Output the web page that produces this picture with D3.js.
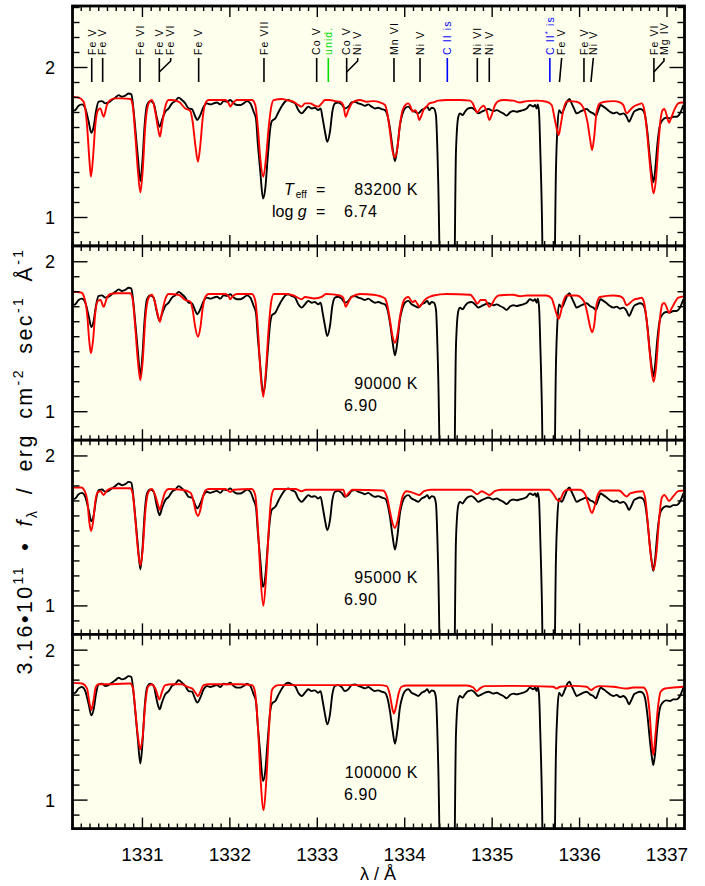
<!DOCTYPE html>
<html><head><meta charset="utf-8">
<script src="https://cdn.jsdelivr.net/npm/d3@7"></script>
<style>body{margin:0;background:#fff} text{font-family:"Liberation Sans",Arial,sans-serif}</style>
</head><body><svg id="c" width="705" height="886"></svg>
<script>
// ---------------- data ----------------
const observed = [[1330.194,1.710],[1330.232,1.716],[1330.270,1.745],[1330.308,1.754],[1330.346,1.727],[1330.385,1.639],[1330.415,1.565],[1330.442,1.605],[1330.468,1.705],[1330.499,1.772],[1330.537,1.776],[1330.575,1.761],[1330.613,1.767],[1330.651,1.783],[1330.690,1.799],[1330.728,1.816],[1330.766,1.805],[1330.804,1.812],[1330.842,1.827],[1330.873,1.821],[1330.892,1.750],[1330.918,1.594],[1330.949,1.394],[1330.976,1.243],[1331.002,1.394],[1331.025,1.616],[1331.052,1.750],[1331.090,1.776],[1331.128,1.761],[1331.166,1.661],[1331.197,1.605],[1331.223,1.650],[1331.261,1.705],[1331.300,1.727],[1331.338,1.761],[1331.376,1.776],[1331.414,1.799],[1331.452,1.783],[1331.490,1.761],[1331.528,1.727],[1331.566,1.723],[1331.605,1.672],[1331.627,1.650],[1331.662,1.683],[1331.700,1.739],[1331.738,1.761],[1331.776,1.754],[1331.814,1.761],[1331.852,1.767],[1331.891,1.754],[1331.929,1.776],[1331.967,1.772],[1332.005,1.783],[1332.043,1.761],[1332.081,1.750],[1332.119,1.750],[1332.157,1.761],[1332.196,1.776],[1332.234,1.761],[1332.272,1.705],[1332.298,1.661],[1332.321,1.483],[1332.348,1.305],[1332.379,1.127],[1332.405,1.194],[1332.432,1.394],[1332.462,1.594],[1332.481,1.643],[1332.520,1.661],[1332.558,1.705],[1332.596,1.745],[1332.630,1.772],[1332.668,1.783],[1332.706,1.772],[1332.745,1.761],[1332.783,1.716],[1332.821,1.694],[1332.859,1.716],[1332.897,1.739],[1332.935,1.727],[1332.973,1.732],[1333.011,1.716],[1333.038,1.727],[1333.061,1.661],[1333.088,1.572],[1333.114,1.505],[1333.145,1.572],[1333.172,1.705],[1333.202,1.761],[1333.240,1.767],[1333.278,1.754],[1333.316,1.727],[1333.355,1.739],[1333.393,1.767],[1333.431,1.772],[1333.469,1.761],[1333.507,1.754],[1333.545,1.745],[1333.583,1.754],[1333.621,1.739],[1333.660,1.727],[1333.698,1.732],[1333.736,1.723],[1333.774,1.716],[1333.801,1.683],[1333.831,1.594],[1333.862,1.461],[1333.888,1.376],[1333.915,1.461],[1333.945,1.616],[1333.976,1.694],[1334.003,1.727],[1334.041,1.739],[1334.079,1.716],[1334.117,1.705],[1334.155,1.694],[1334.193,1.716],[1334.231,1.727],[1334.258,1.739],[1334.281,1.716],[1334.308,1.732],[1334.334,1.727],[1334.357,1.683],[1334.384,1.216],[1334.411,0.400],[1334.450,0.200],[1334.520,0.200],[1334.563,0.400],[1334.586,1.439],[1334.613,1.672],[1334.632,1.694],[1334.662,1.683],[1334.689,1.705],[1334.727,1.727],[1334.765,1.732],[1334.803,1.716],[1334.841,1.694],[1334.880,1.705],[1334.918,1.716],[1334.956,1.723],[1335.013,1.710],[1335.052,1.716],[1335.090,1.705],[1335.128,1.694],[1335.166,1.679],[1335.204,1.701],[1335.242,1.710],[1335.280,1.705],[1335.318,1.710],[1335.357,1.716],[1335.395,1.727],[1335.433,1.750],[1335.471,1.739],[1335.490,1.750],[1335.509,1.727],[1335.521,1.754],[1335.536,1.705],[1335.551,1.439],[1335.570,0.994],[1335.585,0.400],[1335.640,0.200],[1335.707,0.400],[1335.730,1.327],[1335.746,1.594],[1335.765,1.716],[1335.795,1.694],[1335.833,1.739],[1335.860,1.776],[1335.883,1.790],[1335.909,1.761],[1335.936,1.727],[1335.967,1.694],[1336.005,1.705],[1336.043,1.716],[1336.081,1.723],[1336.119,1.705],[1336.157,1.694],[1336.188,1.679],[1336.214,1.716],[1336.241,1.750],[1336.272,1.739],[1336.310,1.723],[1336.348,1.705],[1336.386,1.694],[1336.424,1.701],[1336.462,1.687],[1336.500,1.694],[1336.538,1.672],[1336.565,1.639],[1336.596,1.672],[1336.622,1.705],[1336.653,1.716],[1336.691,1.723],[1336.721,1.716],[1336.748,1.683],[1336.775,1.572],[1336.805,1.394],[1336.828,1.283],[1336.843,1.234],[1336.863,1.305],[1336.889,1.483],[1336.920,1.616],[1336.950,1.650],[1336.988,1.665],[1337.034,1.661],[1337.072,1.672],[1337.110,1.672],[1337.148,1.694],[1337.187,1.750]];

const model83200 = [[1330.194,1.805],[1330.270,1.799],[1330.327,1.772],[1330.366,1.616],[1330.392,1.394],[1330.411,1.272],[1330.434,1.394],[1330.461,1.616],[1330.491,1.716],[1330.518,1.727],[1330.556,1.672],[1330.594,1.750],[1330.632,1.783],[1330.690,1.794],[1330.766,1.794],[1330.861,1.790],[1330.888,1.750],[1330.918,1.550],[1330.949,1.305],[1330.976,1.167],[1331.002,1.305],[1331.033,1.616],[1331.071,1.761],[1331.109,1.783],[1331.147,1.705],[1331.178,1.594],[1331.200,1.539],[1331.223,1.616],[1331.261,1.739],[1331.300,1.783],[1331.338,1.783],[1331.414,1.772],[1331.490,1.727],[1331.547,1.710],[1331.574,1.639],[1331.605,1.483],[1331.635,1.372],[1331.662,1.483],[1331.689,1.661],[1331.719,1.761],[1331.757,1.783],[1331.871,1.783],[1331.948,1.783],[1331.986,1.761],[1332.005,1.739],[1332.032,1.761],[1332.081,1.783],[1332.253,1.783],[1332.291,1.750],[1332.321,1.594],[1332.348,1.394],[1332.382,1.272],[1332.413,1.394],[1332.443,1.594],[1332.470,1.727],[1332.501,1.783],[1332.596,1.790],[1332.649,1.783],[1332.725,1.772],[1332.783,1.750],[1332.821,1.739],[1332.859,1.761],[1332.916,1.761],[1332.973,1.745],[1333.011,1.739],[1333.050,1.761],[1333.088,1.783],[1333.145,1.783],[1333.202,1.776],[1333.259,1.772],[1333.297,1.750],[1333.324,1.672],[1333.355,1.716],[1333.393,1.761],[1333.431,1.776],[1333.488,1.783],[1333.564,1.772],[1333.640,1.776],[1333.717,1.767],[1333.774,1.750],[1333.801,1.694],[1333.831,1.572],[1333.862,1.439],[1333.888,1.399],[1333.915,1.461],[1333.945,1.616],[1333.976,1.716],[1334.014,1.754],[1334.041,1.761],[1334.067,1.739],[1334.090,1.705],[1334.117,1.716],[1334.144,1.694],[1334.167,1.650],[1334.193,1.683],[1334.220,1.723],[1334.250,1.739],[1334.281,1.761],[1334.327,1.767],[1334.384,1.779],[1334.479,1.783],[1334.632,1.783],[1334.746,1.779],[1334.777,1.761],[1334.803,1.727],[1334.830,1.701],[1334.860,1.725],[1334.899,1.745],[1334.937,1.710],[1334.968,1.650],[1334.994,1.683],[1335.033,1.750],[1335.071,1.776],[1335.128,1.783],[1335.242,1.779],[1335.318,1.767],[1335.395,1.776],[1335.509,1.779],[1335.623,1.772],[1335.681,1.750],[1335.707,1.683],[1335.738,1.594],[1335.761,1.550],[1335.784,1.616],[1335.814,1.716],[1335.852,1.772],[1335.890,1.776],[1335.967,1.772],[1336.024,1.750],[1336.062,1.705],[1336.089,1.639],[1336.119,1.527],[1336.142,1.450],[1336.165,1.527],[1336.195,1.705],[1336.233,1.761],[1336.291,1.772],[1336.386,1.776],[1336.462,1.767],[1336.500,1.750],[1336.538,1.694],[1336.577,1.716],[1336.615,1.739],[1336.672,1.754],[1336.710,1.761],[1336.737,1.727],[1336.767,1.594],[1336.798,1.394],[1336.824,1.239],[1336.847,1.161],[1336.874,1.261],[1336.901,1.483],[1336.928,1.661],[1336.950,1.716],[1336.969,1.723],[1336.996,1.683],[1337.023,1.632],[1337.053,1.672],[1337.091,1.727],[1337.129,1.761],[1337.168,1.767],[1337.206,1.767]];

const model90000 = [[1330.194,1.800],[1330.300,1.795],[1330.330,1.770],[1330.366,1.660],[1330.392,1.470],[1330.411,1.390],[1330.434,1.470],[1330.461,1.660],[1330.491,1.740],[1330.520,1.745],[1330.556,1.700],[1330.594,1.760],[1330.632,1.785],[1330.700,1.790],[1330.860,1.790],[1330.888,1.750],[1330.918,1.560],[1330.949,1.330],[1330.976,1.210],[1331.002,1.330],[1331.033,1.620],[1331.071,1.760],[1331.109,1.780],[1331.147,1.720],[1331.178,1.640],[1331.200,1.600],[1331.223,1.660],[1331.261,1.750],[1331.300,1.785],[1331.414,1.780],[1331.490,1.745],[1331.547,1.735],[1331.574,1.680],[1331.605,1.560],[1331.635,1.500],[1331.662,1.560],[1331.689,1.690],[1331.719,1.765],[1331.757,1.785],[1331.950,1.785],[1331.986,1.770],[1332.005,1.750],[1332.032,1.770],[1332.081,1.785],[1332.253,1.785],[1332.291,1.740],[1332.321,1.550],[1332.348,1.280],[1332.382,1.100],[1332.413,1.280],[1332.443,1.550],[1332.470,1.720],[1332.501,1.785],[1332.650,1.785],[1332.730,1.775],[1332.821,1.750],[1332.860,1.765],[1332.970,1.755],[1333.050,1.765],[1333.100,1.785],[1333.260,1.775],[1333.297,1.760],[1333.324,1.700],[1333.355,1.730],[1333.393,1.765],[1333.490,1.785],[1333.640,1.780],[1333.720,1.770],[1333.774,1.755],[1333.801,1.710],[1333.831,1.610],[1333.862,1.500],[1333.888,1.460],[1333.915,1.510],[1333.945,1.630],[1333.976,1.720],[1334.014,1.760],[1334.041,1.765],[1334.090,1.730],[1334.117,1.740],[1334.144,1.720],[1334.167,1.700],[1334.193,1.715],[1334.220,1.740],[1334.280,1.765],[1334.330,1.775],[1334.480,1.785],[1334.750,1.780],[1334.800,1.745],[1334.830,1.720],[1334.870,1.745],[1334.920,1.745],[1334.968,1.700],[1334.994,1.715],[1335.033,1.755],[1335.071,1.775],[1335.242,1.780],[1335.318,1.770],[1335.395,1.775],[1335.620,1.775],[1335.681,1.755],[1335.707,1.710],[1335.738,1.650],[1335.761,1.620],[1335.784,1.660],[1335.814,1.735],[1335.852,1.775],[1335.967,1.775],[1336.024,1.755],[1336.062,1.720],[1336.089,1.655],[1336.119,1.570],[1336.142,1.530],[1336.165,1.570],[1336.195,1.715],[1336.233,1.765],[1336.386,1.775],[1336.462,1.770],[1336.500,1.755],[1336.538,1.710],[1336.577,1.725],[1336.615,1.745],[1336.672,1.755],[1336.710,1.760],[1336.737,1.730],[1336.767,1.610],[1336.798,1.420],[1336.824,1.270],[1336.847,1.200],[1336.874,1.290],[1336.901,1.500],[1336.928,1.665],[1336.950,1.720],[1336.969,1.725],[1336.996,1.695],[1337.023,1.660],[1337.053,1.690],[1337.091,1.730],[1337.129,1.760],[1337.206,1.770]];

const model95000 = [[1330.194,1.790],[1330.300,1.790],[1330.340,1.765],[1330.370,1.700],[1330.392,1.560],[1330.413,1.500],[1330.436,1.560],[1330.462,1.700],[1330.491,1.760],[1330.520,1.765],[1330.556,1.740],[1330.594,1.770],[1330.650,1.785],[1330.860,1.785],[1330.888,1.750],[1330.918,1.580],[1330.949,1.370],[1330.976,1.270],[1331.002,1.370],[1331.033,1.630],[1331.068,1.760],[1331.109,1.780],[1331.150,1.730],[1331.180,1.670],[1331.200,1.640],[1331.223,1.690],[1331.261,1.760],[1331.300,1.780],[1331.450,1.775],[1331.550,1.755],[1331.580,1.710],[1331.610,1.630],[1331.635,1.600],[1331.662,1.640],[1331.690,1.720],[1331.720,1.770],[1331.760,1.780],[1331.950,1.780],[1332.005,1.760],[1332.040,1.775],[1332.250,1.780],[1332.290,1.740],[1332.321,1.520],[1332.350,1.200],[1332.383,1.000],[1332.415,1.200],[1332.446,1.520],[1332.475,1.730],[1332.510,1.780],[1332.750,1.780],[1332.821,1.765],[1332.870,1.775],[1333.297,1.775],[1333.324,1.730],[1333.355,1.750],[1333.400,1.775],[1333.750,1.770],[1333.800,1.720],[1333.831,1.630],[1333.862,1.550],[1333.888,1.520],[1333.915,1.560],[1333.945,1.650],[1333.976,1.730],[1334.020,1.765],[1334.090,1.755],[1334.167,1.740],[1334.220,1.765],[1334.300,1.775],[1334.750,1.775],[1334.830,1.745],[1334.880,1.765],[1334.968,1.740],[1335.030,1.765],[1335.100,1.775],[1335.650,1.775],[1335.707,1.740],[1335.738,1.710],[1335.761,1.700],[1335.784,1.715],[1335.820,1.760],[1335.860,1.775],[1336.000,1.775],[1336.060,1.750],[1336.100,1.680],[1336.142,1.620],[1336.170,1.660],[1336.210,1.745],[1336.250,1.770],[1336.450,1.770],[1336.538,1.730],[1336.580,1.750],[1336.720,1.765],[1336.750,1.720],[1336.780,1.550],[1336.810,1.360],[1336.847,1.240],[1336.880,1.360],[1336.910,1.580],[1336.940,1.720],[1336.970,1.740],[1337.023,1.700],[1337.070,1.730],[1337.130,1.765],[1337.206,1.770]];

const model100000 = [[1330.194,1.782],[1330.308,1.778],[1330.366,1.745],[1330.392,1.656],[1330.415,1.600],[1330.438,1.656],[1330.468,1.756],[1330.499,1.773],[1330.651,1.773],[1330.861,1.778],[1330.892,1.745],[1330.918,1.600],[1330.949,1.422],[1330.976,1.338],[1331.002,1.422],[1331.033,1.645],[1331.063,1.756],[1331.109,1.773],[1331.155,1.734],[1331.193,1.671],[1331.223,1.722],[1331.261,1.767],[1331.338,1.773],[1331.452,1.773],[1331.509,1.756],[1331.566,1.745],[1331.612,1.711],[1331.635,1.693],[1331.662,1.722],[1331.700,1.767],[1331.757,1.773],[1332.100,1.773],[1332.253,1.767],[1332.283,1.734],[1332.321,1.489],[1332.352,1.133],[1332.386,0.933],[1332.417,1.133],[1332.451,1.511],[1332.481,1.734],[1332.520,1.760],[1332.558,1.767],[1333.244,1.767],[1333.717,1.767],[1333.793,1.760],[1333.831,1.700],[1333.858,1.611],[1333.877,1.578],[1333.900,1.622],[1333.930,1.711],[1333.965,1.756],[1334.022,1.764],[1334.708,1.764],[1334.784,1.751],[1334.823,1.727],[1334.861,1.745],[1334.918,1.760],[1335.242,1.762],[1335.699,1.756],[1335.737,1.744],[1335.776,1.756],[1335.928,1.762],[1336.081,1.756],[1336.130,1.734],[1336.176,1.751],[1336.233,1.760],[1336.386,1.756],[1336.538,1.744],[1336.614,1.751],[1336.729,1.751],[1336.767,1.722],[1336.798,1.600],[1336.820,1.422],[1336.843,1.300],[1336.866,1.422],[1336.897,1.622],[1336.927,1.722],[1336.977,1.744],[1337.072,1.751],[1337.186,1.756]];

const panelTeff = ["83200 K", "90000 K", "95000 K", "100000 K"];
const panelLogg = ["6.74", "6.90", "6.90", "6.90"];
const xTickLabels = [1331, 1332, 1333, 1334, 1335, 1336, 1337];
const yTickLabels = [1, 2];
// line identifications: [text, label wavelength, line wavelength, kind]
const lineIds = [
  ["Fe V", 1330.420, 1330.420, "ion"],
  ["Fe V", 1330.545, 1330.545, "ion"],
  ["Fe VI", 1330.972, 1330.972, "ion"],
  ["Fe V", 1331.193, 1331.193, "ion"],
  ["Fe VI", 1331.323, 1331.193, "ion"],
  ["Fe V", 1331.643, 1331.643, "ion"],
  ["Fe VII", 1332.390, 1332.390, "ion"],
  ["Co V", 1332.993, 1332.993, "ion"],
  ["unid.", 1333.126, 1333.126, "unid"],
  ["Co V", 1333.336, 1333.336, "ion"],
  ["Ni V", 1333.462, 1333.336, "ion"],
  ["Mn VI", 1333.877, 1333.877, "ion"],
  ["Ni V", 1334.175, 1334.175, "ion"],
  ["C II is", 1334.487, 1334.487, "is"],
  ["Ni VI", 1334.830, 1334.830, "ion"],
  ["Ni V", 1334.967, 1334.967, "ion"],
  ["C II* is", 1335.660, 1335.660, "is"],
  ["Fe V", 1335.795, 1335.770, "ion"],
  ["Fe V", 1336.050, 1336.050, "ion"],
  ["Ni V", 1336.157, 1336.130, "ion"],
  ["Fe VI", 1336.850, 1336.850, "ion"],
  ["Mg IV", 1336.965, 1336.850, "ion"]
];
const kindColor = {ion: "#000000", unid: "#00e000", is: "#0000ff"};

// ---------------- drawing ----------------
const svg = d3.select("#c");
svg.append("rect").attr("width", 705).attr("height", 886).attr("fill", "#ffffff");
const x = d3.scaleLinear().domain([1330.2, 1337.2]).range([72.5, 684.5]);
const x0 = x.range()[0], x1 = x.range()[1];
const panels = [
  {top: 6, bottom: 246, dom: [0.81, 2.41], model: model83200},
  {top: 246, bottom: 440.2, dom: [0.81, 2.105], model: model90000},
  {top: 440.2, bottom: 634.4, dom: [0.81, 2.105], model: model95000},
  {top: 634.4, bottom: 828.6, dom: [0.81, 2.105], model: model100000}
];
const minorX = d3.range(0, 71).map(i => +(1330.2 + i * 0.1).toFixed(1)).filter(v => Math.abs(v - Math.round(v)) > 1e-6);

panels.forEach((p, i) => {
  const y = d3.scaleLinear().domain(p.dom).range([p.bottom, p.top]);
  const g = svg.append("g");
  g.append("rect").attr("x", x0).attr("y", p.top).attr("width", x1 - x0).attr("height", p.bottom - p.top).attr("fill", "#ffffee");
  const cid = "clip" + i;
  svg.append("clipPath").attr("id", cid).append("rect").attr("x", x0).attr("y", p.top).attr("width", x1 - x0).attr("height", p.bottom - p.top);
  const line = d3.line().x(d => x(d[0])).y(d => y(d[1])).curve(d3.curveMonotoneX);
  const cg = g.append("g").attr("clip-path", `url(#${cid})`);
  cg.append("path").datum(observed).attr("d", line).attr("fill", "none").attr("stroke", "#000").attr("stroke-width", 1.9).attr("stroke-linejoin", "round");
  cg.append("path").datum(p.model).attr("d", line).attr("fill", "none").attr("stroke", "#ff0000").attr("stroke-width", 1.9).attr("stroke-linejoin", "round");

  // ticks
  const tk = g.append("g").attr("stroke", "#000").attr("stroke-width", 1.4);
  minorX.forEach(v => {
    tk.append("line").attr("x1", x(v)).attr("x2", x(v)).attr("y1", p.bottom).attr("y2", p.bottom - 5);
    tk.append("line").attr("x1", x(v)).attr("x2", x(v)).attr("y1", p.top).attr("y2", p.top + 5);
  });
  xTickLabels.forEach(v => {
    tk.append("line").attr("x1", x(v)).attr("x2", x(v)).attr("y1", p.bottom).attr("y2", p.bottom - 11);
    tk.append("line").attr("x1", x(v)).attr("x2", x(v)).attr("y1", p.top).attr("y2", p.top + 11);
  });
  d3.range(8, 25).map(k => k / 10).filter(v => v > p.dom[0] + 0.005 && v < p.dom[1] - 0.005).forEach(v => {
    const major = yTickLabels.includes(v);
    const L = major ? 15 : 7;
    tk.append("line").attr("x1", x0).attr("x2", x0 + L).attr("y1", y(v)).attr("y2", y(v));
    tk.append("line").attr("x1", x1).attr("x2", x1 - L).attr("y1", y(v)).attr("y2", y(v));
  });
  yTickLabels.forEach(v => {
    g.append("text").attr("x", 55).attr("y", y(v)).attr("dy", "0.36em").attr("text-anchor", "end")
      .attr("font-size", 18).text(v);
  });

  // annotation
  const by = p.bottom - 51, ly = p.bottom - 29;
  g.append("text").attr("x", 418).attr("y", by).attr("text-anchor", "end").attr("font-size", 16).attr("letter-spacing", 0.6).text(panelTeff[i]);
  g.append("text").attr("x", 344).attr("y", ly).attr("font-size", 16).attr("letter-spacing", 0.6).text(panelLogg[i]);
  if (i === 0) {
    const t = g.append("text").attr("x", 284).attr("y", by).attr("font-size", 16);
    t.append("tspan").attr("font-style", "italic").text("T");
    t.append("tspan").attr("font-size", 10).attr("dy", 3).attr("dx", 2).text("eff");
    g.append("text").attr("x", 316).attr("y", by).attr("font-size", 16).text("=");
    const t2 = g.append("text").attr("x", 272).attr("y", ly).attr("font-size", 16);
    t2.append("tspan").text("log ");
    t2.append("tspan").attr("font-style", "italic").text("g");
    g.append("text").attr("x", 316).attr("y", ly).attr("font-size", 16).text("=");
  }
  g.append("rect").attr("x", x0).attr("y", p.top).attr("width", x1 - x0).attr("height", p.bottom - p.top)
    .attr("fill", "none").attr("stroke", "#000").attr("stroke-width", 2.8);
});

// line identification marks in top panel
const idg = svg.append("g");
lineIds.forEach(([txt, lab, pos, kind]) => {
  const c = kindColor[kind];
  const lx = x(lab), px = x(pos);
  let d;
  if (Math.abs(lx - px) > 5) d = `M${lx},58 L${lx},61 L${px},72`;
  else d = `M${lx},58 L${px},82`;
  idg.append("path").attr("d", d).attr("fill", "none").attr("stroke", c).attr("stroke-width", 1.6);
  const t = idg.append("text").attr("transform", `translate(${lx + 3.8},55) rotate(-90)`)
    .attr("font-size", 10.5).attr("letter-spacing", 1.1).attr("fill", c);
  if (txt.includes("*")) {
    const parts = txt.split("*");
    t.append("tspan").text(parts[0]);
    t.append("tspan").attr("dy", -4).attr("font-size", 8).text("*");
    t.append("tspan").attr("dy", 4).text(parts[1]);
  } else t.text(txt);
});

// x axis labels
const ax = svg.append("g");
xTickLabels.forEach(v => {
  ax.append("text").attr("x", x(v)).attr("y", 861).attr("text-anchor", "middle").attr("font-size", 19).text(v);
});
ax.append("text").attr("x", 378).attr("y", 880).attr("text-anchor", "middle").attr("font-size", 18).text("λ / Å");

// y axis label
const yl = svg.append("text").attr("transform", "translate(32,461) rotate(-90)").attr("text-anchor", "middle")
  .attr("font-size", 21.5).attr("letter-spacing", 2.4).attr("word-spacing", 6);
yl.append("tspan").text("3.16•10");
yl.append("tspan").attr("dy", -9).attr("font-size", 14).text("11");
yl.append("tspan").attr("dy", 9).text(" • ");
yl.append("tspan").attr("font-style", "italic").text("f");
yl.append("tspan").attr("dy", 5).attr("font-size", 14).text("λ");
yl.append("tspan").attr("dy", -5).text(" / erg cm");
yl.append("tspan").attr("dy", -9).attr("font-size", 14).text("-2");
yl.append("tspan").attr("dy", 9).text(" sec");
yl.append("tspan").attr("dy", -9).attr("font-size", 14).text("-1");
yl.append("tspan").attr("dy", 9).text(" Å");
yl.append("tspan").attr("dy", -9).attr("font-size", 14).text("-1");
</script></body></html>
